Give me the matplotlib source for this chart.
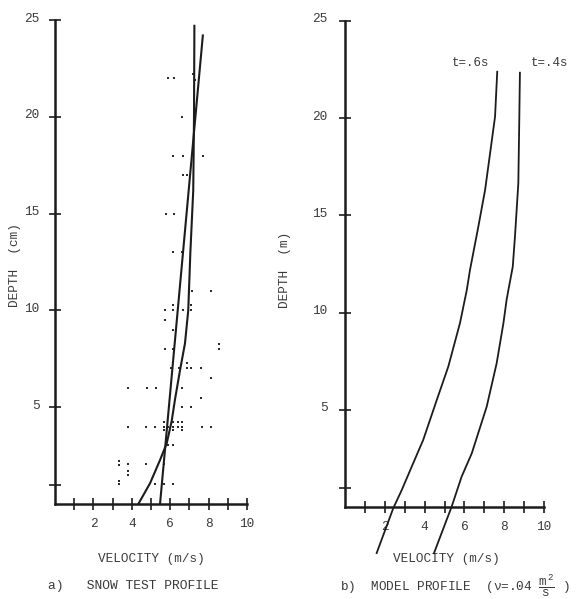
import matplotlib
matplotlib.use("Agg")
import matplotlib.pyplot as plt
from matplotlib.transforms import ScaledTranslation

plt.rcParams['font.family'] = ['Liberation Mono', 'DejaVu Sans Mono']
plt.rcParams['mathtext.fontset'] = 'custom'
plt.rcParams['mathtext.rm'] = 'Liberation Mono'
plt.rcParams['mathtext.it'] = 'Liberation Mono'
plt.rcParams['mathtext.tt'] = 'Liberation Mono'

# ---------------- data: a) snow test profile ----------------
snow_velocity = [5.87, 6.21, 7.20, 7.28,
                 6.63,
                 6.16, 6.65, 7.72,
                 6.65, 6.89,
                 5.78, 6.20,
                 6.13, 6.60,
                 7.12, 8.12,
                 6.15, 7.08,
                 5.73, 6.13, 6.65, 7.08,
                 5.73,
                 6.16,
                 5.73, 6.15,
                 8.54, 8.54,
                 6.86,
                 6.04, 6.46, 6.86, 7.08, 7.59,
                 8.12,
                 3.82, 4.78, 5.24, 6.60,
                 7.60,
                 6.60, 7.07,
                 3.82, 4.74, 5.21, 5.69, 5.90, 6.16, 6.39, 6.63, 7.64, 8.13,
                 5.69, 6.16, 6.39, 6.63,
                 5.69, 6.16, 6.63,
                 5.90, 6.13,
                 3.35, 3.35, 3.82, 4.72, 5.69,
                 3.82, 3.82,
                 3.35, 3.35,
                 5.20, 5.69, 6.13]
snow_depth = [22.0, 22.0, 22.2, 21.9,
              20.0,
              18.0, 18.0, 18.0,
              17.0, 17.0,
              15.0, 15.0,
              13.0, 13.0,
              11.0, 11.0,
              10.3, 10.3,
              10.0, 10.0, 10.0, 10.0,
              9.5,
              9.0,
              8.0, 8.0,
              8.25, 8.0,
              7.3,
              7.0, 7.0, 7.0, 7.0, 7.0,
              6.5,
              6.0, 6.0, 6.0, 6.0,
              5.5,
              5.0, 5.0,
              4.0, 4.0, 4.0, 4.0, 4.0, 4.0, 4.0, 4.0, 4.0, 4.0,
              4.25, 4.25, 4.25, 4.25,
              3.8, 3.8, 3.8,
              3.05, 3.05,
              2.2, 2.0, 2.05, 2.05, 2.05,
              1.7, 1.5,
              1.2, 1.02,
              1.02, 1.02, 1.02]

fit_line_velocity = [5.47, 7.70]
fit_line_depth = [0.0, 24.2]

fit_curve_velocity = [4.34, 4.95, 5.47, 5.82, 6.08, 6.25, 6.51, 6.77, 6.94, 7.05, 7.20, 7.24, 7.26]
fit_curve_depth = [0.0, 1.07, 2.27, 3.14, 4.3, 5.4, 6.9, 8.3, 10.0, 13.0, 16.2, 20.0, 24.7]

# ---------------- data: b) model profile ----------------
t06_velocity = [1.59, 2.43, 2.85, 3.43, 3.93, 4.61, 5.19, 5.78, 6.12, 6.28, 6.70, 7.04, 7.29, 7.54, 7.65]
t06_depth = [-2.37, -0.05, 0.87, 2.26, 3.45, 5.50, 7.22, 9.47, 11.16, 12.19, 14.42, 16.31, 18.19, 20.08, 22.39]

t04_velocity = [4.47, 5.36, 5.86, 6.37, 7.12, 7.62, 7.96, 8.12, 8.21, 8.43, 8.54, 8.71, 8.76, 8.79]
t04_depth = [-2.38, 0.02, 1.56, 2.76, 5.16, 7.39, 9.45, 10.65, 11.16, 12.36, 13.9, 16.65, 20.08, 22.34]

x_ticks = [1, 2, 3, 4, 5, 6, 7, 8, 9, 10]
x_ticklabels = ['', '2', '', '4', '', '6', '', '8', '', '10']
y_ticks = [1, 5, 10, 15, 20, 25]
y_ticklabels = ['', '5', '10', '15', '20', '25']

INK = '#1c1c1c'
TXT = '#3a3a3a'
FS = 9.2

W, H = 582, 599
fig = plt.figure(figsize=(W / 100, H / 100), dpi=100, facecolor='white')

def px_axes(x0, x1, y0, y1):
    # x0,x1: pixel columns of data x=0 and x=10; y0,y1: pixel rows of y=0 and y=25
    return fig.add_axes([x0 / W, 1 - y0 / H, (x1 - x0) / W, (y0 - y1) / H])

axA = px_axes(55, 247, 504, 20)
axB = px_axes(345, 544, 507, 21)

for ax, ypad in ((axA, 7.0), (axB, 8.5)):
    ax.set_xlim(0, 10)
    ax.set_ylim(0, 25)
    ax.set_facecolor('none')
    for s in ('top', 'right'):
        ax.spines[s].set_visible(False)
    for s in ('left', 'bottom'):
        ax.spines[s].set_linewidth(1.8)
        ax.spines[s].set_color(INK)
    ax.set_xticks(x_ticks)
    ax.set_xticklabels(x_ticklabels)
    ax.set_yticks(y_ticks)
    ax.set_yticklabels(y_ticklabels)
    ax.tick_params(axis='both', direction='inout', length=8, width=1.2, color=INK,
                   labelsize=FS, labelcolor=TXT)
    ax.tick_params(axis='x', pad=6)
    ax.tick_params(axis='y', pad=ypad)
    for lbl in ax.get_yticklabels():
        lbl.set_transform(lbl.get_transform() + ScaledTranslation(0, 3 / 100, fig.dpi_scale_trans))

# a) panel
axA.plot(snow_velocity, snow_depth, linestyle='none', marker='s', markersize=2.0,
         color='#2a2a2a', markeredgewidth=0)
axA.plot(fit_line_velocity, fit_line_depth, color=INK, linewidth=1.5, clip_on=False)
axA.plot(fit_curve_velocity, fit_curve_depth, color=INK, linewidth=1.5, clip_on=False)
axA.set_ylabel('DEPTH  (cm)', fontsize=FS, color=TXT)
axA.yaxis.set_label_coords(-0.177, 0.494)
axA.set_xlabel('VELOCITY (m/s)', fontsize=FS, color=TXT)
axA.xaxis.set_label_coords(0.5, -0.101)

# b) panel
axB.plot(t06_velocity, t06_depth, color=INK, linewidth=1.3, clip_on=False)
axB.plot(t04_velocity, t04_depth, color=INK, linewidth=1.3, clip_on=False)
axB.text(6.33, 22.84, 't=.6s', fontsize=9, color=TXT, ha='center', va='center', clip_on=False)
axB.text(10.3, 22.84, 't=.4s', fontsize=9, color=TXT, ha='center', va='center', clip_on=False)
axB.set_ylabel('DEPTH  (m)', fontsize=FS, color=TXT)
axB.yaxis.set_label_coords(-0.27, 0.488)
axB.set_xlabel('VELOCITY (m/s)', fontsize=FS, color=TXT)
axB.xaxis.set_label_coords(0.508, -0.095)

fig.text(48 / W, 1 - 586 / H, 'a)   SNOW TEST PROFILE', fontsize=9.4, color=TXT,
         ha='left', va='center')
fig.text(340 / W, 1 - 586 / H, r'b)  MODEL PROFILE  (ν=.04 $\dfrac{m^2}{s}$ )', fontsize=9.2,
         color=TXT, ha='left', va='center')

fig.savefig('out.png', dpi=100, facecolor='white')
